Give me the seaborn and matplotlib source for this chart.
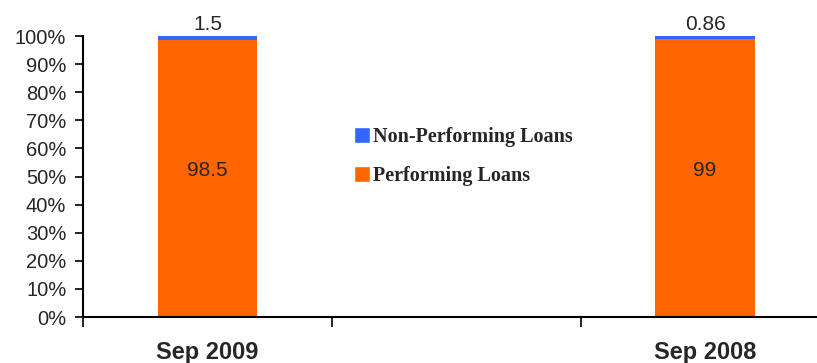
import numpy as np
import pandas as pd
import seaborn as sns
import matplotlib.pyplot as plt
from matplotlib.patches import Patch
from matplotlib.ticker import FixedLocator, PercentFormatter

# chart data
periods = ["Sep 2009", "Sep 2008"]
performing = [98.5, 99]
non_performing = [1.5, 0.86]
slots = ["Sep 2009", " ", "Sep 2008"]

df = pd.DataFrame({"period": periods, "PL": performing, "NPL": non_performing})
df["total"] = df["PL"] + df["NPL"]

sns.set_style("white")
plt.rcParams['font.family'] = ['Liberation Sans', 'DejaVu Sans']

fig = plt.figure(figsize=(8.17, 3.63), dpi=100)
ax = fig.add_axes([0.1016, 0.1267, 0.8984, 0.7741])

blue = "#3366FF"
orange = "#FF6600"

# stacked bars: total in blue underneath, performing in orange on top
sns.barplot(data=df, x="period", y="total", order=slots, color=blue, width=0.4,
            saturation=1, linewidth=0, ax=ax)
sns.barplot(data=df, x="period", y="PL", order=slots, color=orange, width=0.4,
            saturation=1, linewidth=0, ax=ax)

# value labels
for i, row in df.iterrows():
    xpos = slots.index(row["period"])
    ax.text(xpos, 52, f"{row['PL']:g}", ha="center", va="center", fontsize=15)
    ax.text(xpos, row["total"] + 0.8, f"{row['NPL']:g}", ha="center", va="bottom", fontsize=15)

ax.set_ylim(0, 100)
ax.set_xlim(-0.5, 2.45)
ax.set_yticks(np.arange(0, 101, 10))
ax.yaxis.set_major_formatter(PercentFormatter(decimals=0))
ax.tick_params(axis="y", direction="out", length=6, width=1.2, color="black",
               labelsize=14.5, pad=6, left=True)
ax.set_xticks(range(len(slots)))
ax.set_xticklabels(slots, fontsize=17, fontweight="bold")
ax.tick_params(axis="x", which="major", length=0, pad=17)
ax.xaxis.set_minor_locator(FixedLocator([-0.5, 0.5, 1.5]))
ax.tick_params(axis="x", which="minor", direction="out", length=7, width=1.2,
               color="black", bottom=True)
ax.set_xlabel("")
ax.set_ylabel("")

for s in ["top", "right"]:
    ax.spines[s].set_visible(False)
for s in ["left", "bottom"]:
    ax.spines[s].set_color("black")
    ax.spines[s].set_linewidth(1.5)

handles = [Patch(facecolor=blue, label="Non-Performing Loans"),
           Patch(facecolor=orange, label="Performing Loans")]
ax.legend(handles=handles, loc="center left", bbox_to_anchor=(0.355, 0.571),
          frameon=False, handlelength=0.8, handleheight=0.8, handletextpad=0.15,
          labelspacing=0.95, borderpad=0,
          prop={"family": "Liberation Serif", "weight": "bold", "size": 14.5})

fig.savefig("out.png", dpi=100)
